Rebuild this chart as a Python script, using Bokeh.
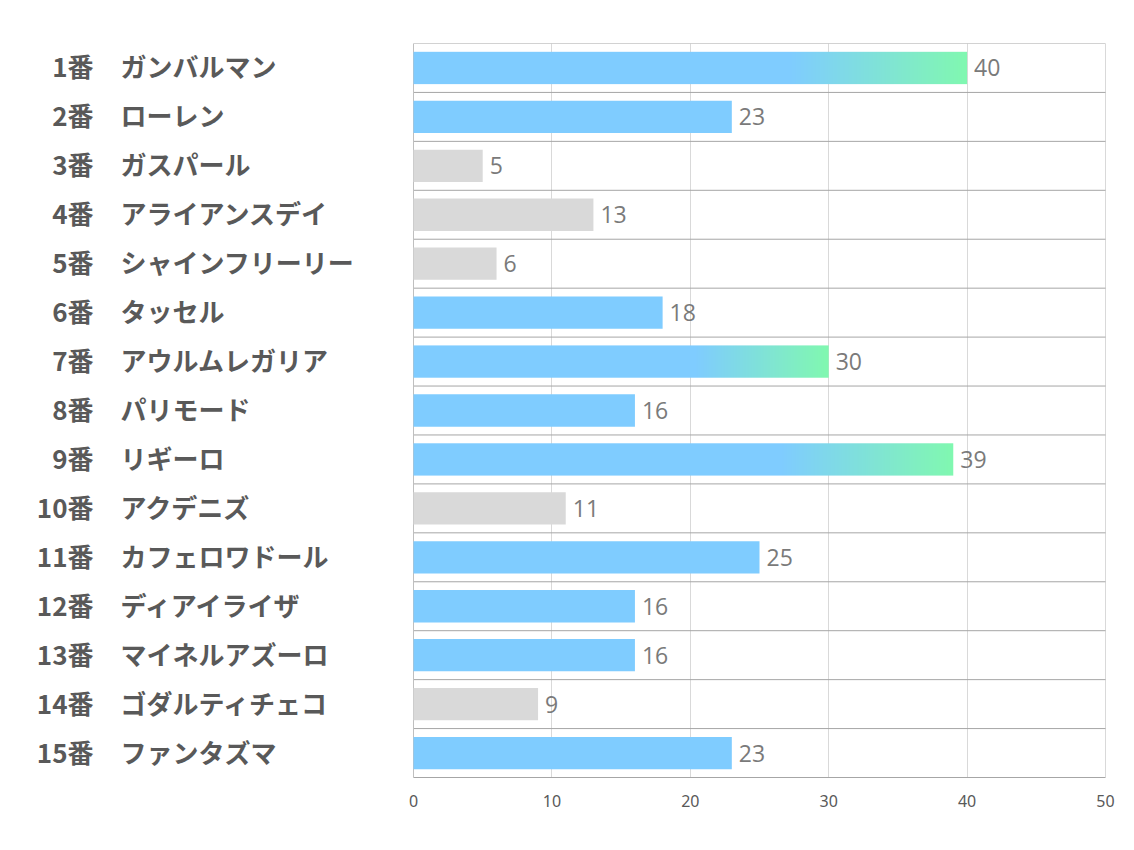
import numpy as np
from bokeh.plotting import figure
from bokeh.models import Range1d, FixedTicker, ColumnDataSource
from bokeh.core.properties import value
from bokeh.embed import file_html
from bokeh.resources import INLINE

numbers = ["1番", "2番", "3番", "4番", "5番", "6番", "7番", "8番", "9番", "10番",
           "11番", "12番", "13番", "14番", "15番"]
names = ["ガンバルマン", "ローレン", "ガスパール", "アライアンスデイ", "シャインフリーリー",
         "タッセル", "アウルムレガリア", "パリモード", "リギーロ", "アクデニズ",
         "カフェロワドール", "ディアイライザ", "マイネルアズーロ", "ゴダルティチェコ", "ファンタズマ"]
values = [40, 23, 5, 13, 6, 18, 30, 16, 39, 11, 25, 16, 16, 9, 23]
kinds = ["grad", "blue", "gray", "gray", "gray", "blue", "grad", "blue", "grad", "gray",
         "blue", "blue", "blue", "gray", "blue"]
ticks = [0, 10, 20, 30, 40, 50]

BLUE = (127, 204, 255)
GREEN = (128, 248, 176)
GRAY = "#D9D9D9"
BLUE_HEX = "#%02X%02X%02X" % BLUE

W, H = 1118, 842
PXU = 692 / 50.0
left_px = 18
right_px = 6
x_start = -(413 - left_px) / PXU
x_end = 50 + 7 / PXU

n = len(values)
p = figure(width=W, height=H, output_backend="svg", toolbar_location=None,
           x_range=Range1d(x_start, x_end), y_range=Range1d(n + 0.5, 0.5),
           y_axis_location=None, min_border_left=left_px, min_border_right=right_px,
           min_border_top=43, min_border_bottom=65)
p.outline_line_color = None
p.background_fill_color = "white"
p.border_fill_color = "white"

# grids
p.xgrid.ticker = FixedTicker(ticks=ticks)
p.xgrid.grid_line_color = "#D9D9D9"
p.xgrid.bounds = (0, 50)
p.ygrid.visible = False
p.xaxis.ticker = FixedTicker(ticks=ticks)
p.xaxis.bounds = (0, 50)
p.xaxis.axis_line_color = "#A6A6A6"
p.xaxis.major_tick_line_color = None
p.xaxis.minor_tick_line_color = None
p.xaxis.major_tick_out = 0
p.xaxis.major_label_standoff = 17
p.xaxis.major_label_text_font = "Noto Sans"
p.xaxis.major_label_text_font_size = "16px"
p.xaxis.major_label_text_color = "#595959"

# row separators and left border
seps = [i + 0.5 for i in range(n)]
p.segment(x0=[0] * n, x1=[50] * n, y0=seps, y1=seps, line_color="#A6A6A6", line_width=1)
p.segment(x0=[0], x1=[0], y0=[0.5], y1=[n + 0.5], line_color="#BFBFBF", line_width=1)

ys = list(range(1, n + 1))
bh = 0.66
GSTART = 0.68

# plain bars
qy = [y for y, k in zip(ys, kinds) if k != "grad"]
qv = [v for v, k in zip(values, kinds) if k != "grad"]
qc = [GRAY if k == "gray" else BLUE_HEX for k in kinds if k != "grad"]
src = ColumnDataSource(dict(left=[0] * len(qv), right=qv,
                            top=[y - bh / 2 for y in qy], bottom=[y + bh / 2 for y in qy],
                            color=qc))
p.quad(left="left", right="right", top="top", bottom="bottom", fill_color="color",
       line_color=None, source=src)

# highlighted bars: flat blue, then blue->green gradient over the last part
NPX = 600
t = np.clip((np.linspace(0, 1, NPX) - GSTART) / (1 - GSTART), 0, 1)
grad = np.zeros((2, NPX), dtype=np.uint32)
view = grad.view(dtype=np.uint8).reshape((2, NPX, 4))
for j in range(3):
    view[:, :, j] = np.round(BLUE[j] + (GREEN[j] - BLUE[j]) * t).astype(np.uint8)
view[:, :, 3] = 255
gy = [y - bh / 2 for y, k in zip(ys, kinds) if k == "grad"]
gv = [v for v, k in zip(values, kinds) if k == "grad"]
p.image_rgba(image=[grad] * len(gv), x=[0] * len(gv), y=gy, dw=gv, dh=[bh] * len(gv))

# value labels
p.text(x=values, y=ys, text=[str(v) for v in values], x_offset=7,
       text_align="left", text_baseline="middle", text_font=value("Open Sans"),
       text_font_size="23px", text_color="#7A7A7A")

# category labels
p.text(x=[0] * n, y=ys, text=numbers, x_offset=-320, y_offset=-2, text_align="right",
       text_baseline="middle", text_font=value("Noto Sans CJK JP"), text_font_style="bold",
       text_font_size="26px", text_color="#595959")
p.text(x=[0] * n, y=ys, text=names, x_offset=-293, y_offset=-2, text_align="left",
       text_baseline="middle", text_font=value("Noto Sans CJK JP"), text_font_style="bold",
       text_font_size="26px", text_color="#595959")

open("out.html", "w").write(file_html(p, INLINE))
